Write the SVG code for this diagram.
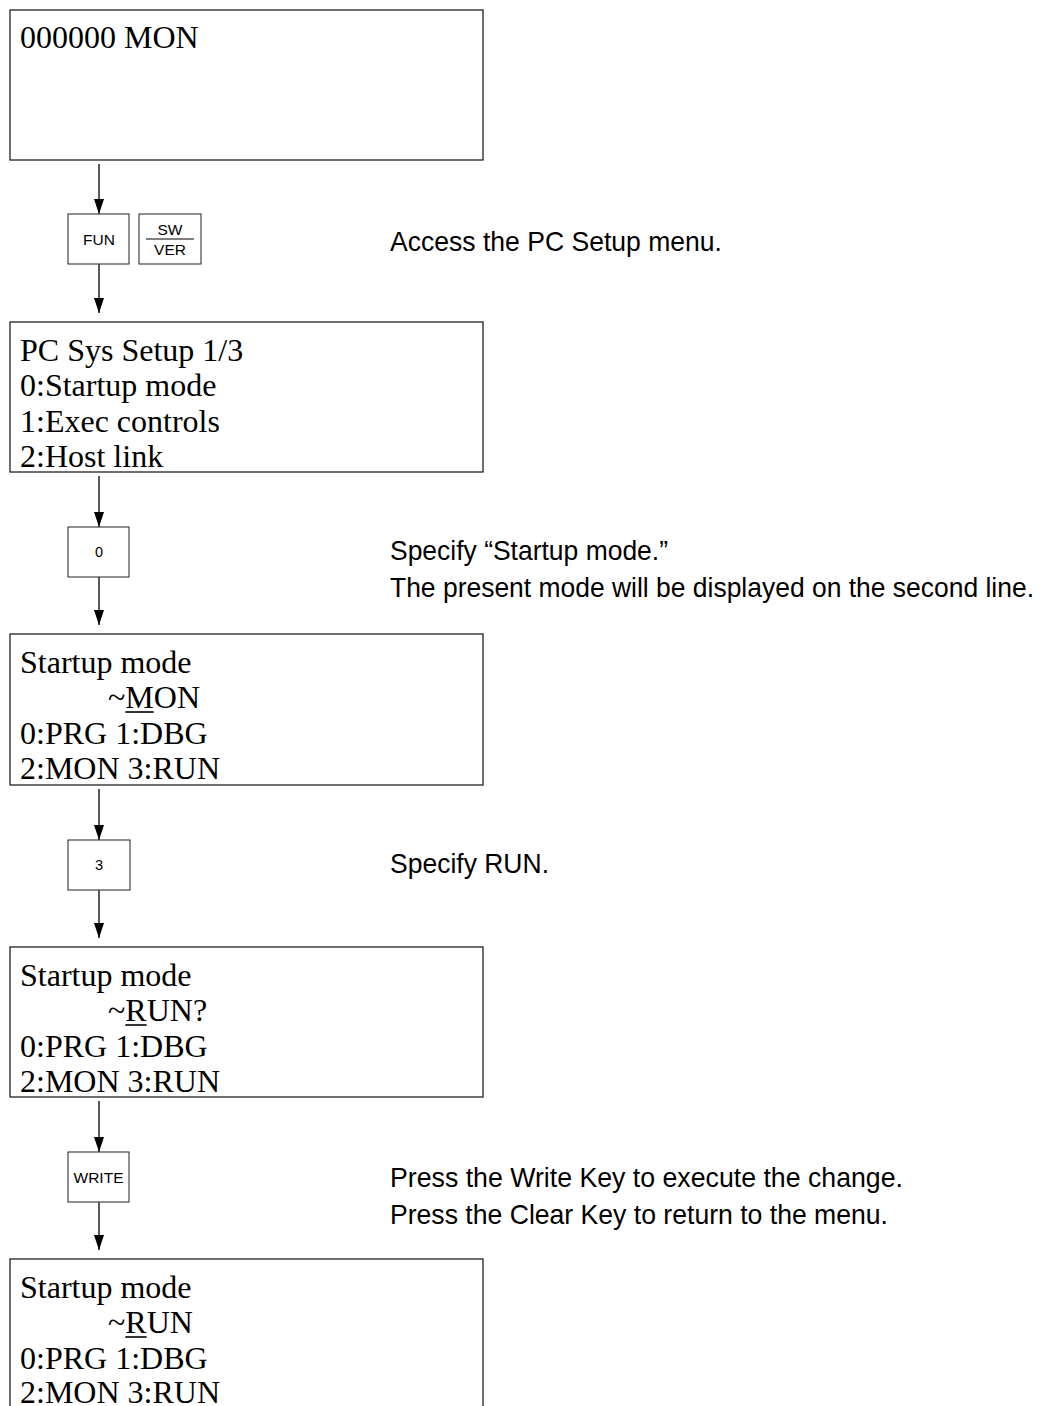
<svg xmlns="http://www.w3.org/2000/svg" width="1042" height="1406" viewBox="0 0 1042 1406">
<style>
.box{fill:#fff;stroke:#222;stroke-width:1.3}
.key{fill:#fff;stroke:#333;stroke-width:1.1}
.lcd{font-family:"Liberation Serif","Times New Roman",serif;font-size:32px;fill:#000}
.kt{font-family:"Liberation Sans",Arial,sans-serif;font-size:15.5px;fill:#000;text-anchor:middle}
.kd{font-family:"Liberation Sans",Arial,sans-serif;font-size:14.5px;fill:#000;text-anchor:middle}
.note{font-family:"Liberation Sans",Arial,sans-serif;font-size:27.5px;fill:#000}
.conn{stroke:#000;stroke-width:1.3;fill:none;marker-end:url(#ah)}
.ul{stroke:#000;stroke-width:1.6}
</style>
<defs>
<marker id="ah" viewBox="0 0 15 10" refX="15" refY="5" markerWidth="15" markerHeight="10" markerUnits="userSpaceOnUse" orient="auto">
<path d="M0,0 L15,5 L0,10 Z" fill="#000"/>
</marker>
</defs>
<rect width="1042" height="1406" fill="#fff"/>

<g id="connectors">
<line class="conn" x1="99" y1="164" x2="99" y2="214"/>
<line class="conn" x1="99" y1="264" x2="99" y2="313"/>
<line class="conn" x1="99" y1="476" x2="99" y2="527"/>
<line class="conn" x1="99" y1="577" x2="99" y2="625"/>
<line class="conn" x1="99" y1="789" x2="99" y2="840"/>
<line class="conn" x1="99" y1="890" x2="99" y2="938"/>
<line class="conn" x1="99" y1="1101" x2="99" y2="1152"/>
<line class="conn" x1="99" y1="1202" x2="99" y2="1250"/>
</g>

<g id="screen1">
<rect class="box" x="10" y="10" width="473" height="150"/>
<text class="lcd" x="20" y="48">000000 MON</text>
</g>

<g id="key-fun">
<rect class="key" x="68" y="214" width="61" height="50"/>
<text class="kt" x="99" y="245">FUN</text>
</g>
<g id="key-swver">
<rect class="key" x="139" y="214" width="62" height="50"/>
<text class="kt" x="170" y="235">SW</text>
<line x1="146" y1="239" x2="194" y2="239" stroke="#000" stroke-width="1"/>
<text class="kt" x="170" y="255">VER</text>
</g>
<g id="note1">
<text class="note" x="390" y="251" textLength="332" lengthAdjust="spacingAndGlyphs">Access the PC Setup menu.</text>
</g>

<g id="screen2">
<rect class="box" x="10" y="322" width="473" height="150"/>
<text class="lcd" x="20" y="361">PC Sys Setup 1/3</text>
<text class="lcd" x="20" y="396">0:Startup mode</text>
<text class="lcd" x="20" y="432">1:Exec controls</text>
<text class="lcd" x="20" y="467">2:Host link</text>
</g>

<g id="key-0">
<rect class="key" x="68" y="527" width="61" height="50"/>
<text class="kd" x="99" y="557">0</text>
</g>
<g id="note2">
<text class="note" x="390" y="560" textLength="278" lengthAdjust="spacingAndGlyphs">Specify “Startup mode.”</text>
<text class="note" x="390" y="597" textLength="644" lengthAdjust="spacingAndGlyphs">The present mode will be displayed on the second line.</text>
</g>

<g id="screen3">
<rect class="box" x="10" y="634" width="473" height="151"/>
<text class="lcd" x="20" y="673">Startup mode</text>
<text class="lcd" x="108" y="708">~MON</text>
<line class="ul" x1="125.3" y1="712" x2="153.7" y2="712"/>
<text class="lcd" x="20" y="744">0:PRG 1:DBG</text>
<text class="lcd" x="20" y="779">2:MON 3:RUN</text>
</g>

<g id="key-3">
<rect class="key" x="68" y="840" width="62" height="50"/>
<text class="kd" x="99" y="870">3</text>
</g>
<g id="note3">
<text class="note" x="390" y="873" textLength="159" lengthAdjust="spacingAndGlyphs">Specify RUN.</text>
</g>

<g id="screen4">
<rect class="box" x="10" y="947" width="473" height="150"/>
<text class="lcd" x="20" y="986">Startup mode</text>
<text class="lcd" x="108" y="1021">~RUN?</text>
<line class="ul" x1="125.3" y1="1025" x2="146.6" y2="1025"/>
<text class="lcd" x="20" y="1057">0:PRG 1:DBG</text>
<text class="lcd" x="20" y="1092">2:MON 3:RUN</text>
</g>

<g id="key-write">
<rect class="key" x="68" y="1152" width="61" height="50"/>
<text class="kt" x="98.5" y="1182.5">WRITE</text>
</g>
<g id="note4">
<text class="note" x="390" y="1187" textLength="513" lengthAdjust="spacingAndGlyphs">Press the Write Key to execute the change.</text>
<text class="note" x="390" y="1224" textLength="498" lengthAdjust="spacingAndGlyphs">Press the Clear Key to return to the menu.</text>
</g>

<g id="screen5">
<rect class="box" x="10" y="1259" width="473" height="200"/>
<text class="lcd" x="20" y="1298">Startup mode</text>
<text class="lcd" x="108" y="1333">~RUN</text>
<line class="ul" x1="125.3" y1="1337" x2="146.6" y2="1337"/>
<text class="lcd" x="20" y="1369">0:PRG 1:DBG</text>
<text class="lcd" x="20" y="1403">2:MON 3:RUN</text>
</g>
</svg>
